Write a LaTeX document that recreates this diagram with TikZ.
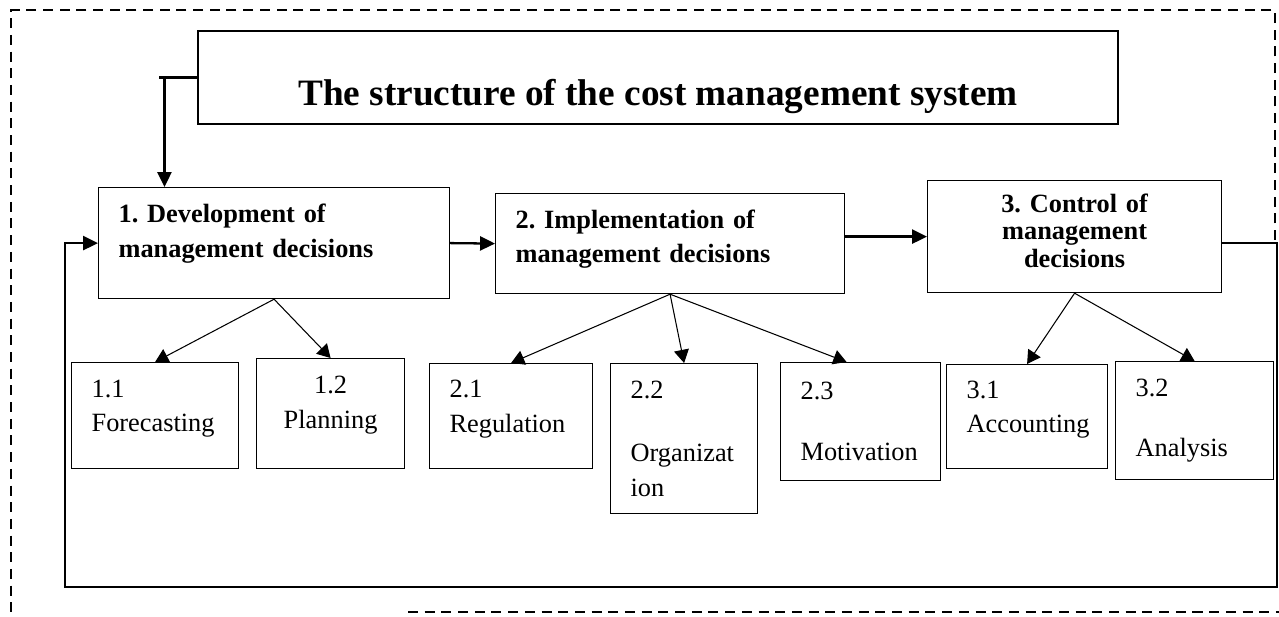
\documentclass[tikz,border=0pt]{standalone}
\usepackage{fontspec}
\setmainfont{Liberation Serif}
\usetikzlibrary{arrows.meta,calc}

\begin{document}
\frenchspacing
\begin{tikzpicture}[x=0.02cm, y=-0.02cm, font=\fontsize{15}{19.8}\selectfont,
  bx/.style={draw, line width=0.7pt, inner xsep=0.4cm, inner ysep=0pt, anchor=north west, align=left},
  bf/.style={font=\fontsize{15}{19.8}\selectfont\bfseries},
  ln/.style={line width=1.3pt},
  arr/.style={-{Triangle[length=8.5pt,width=8pt]}, line width=1.3pt},
  sub/.style={-{Triangle[length=7.5pt,width=8.5pt]}, line width=0.6pt},
  frm/.style={dash pattern=on 5.7pt off 3.8pt, line width=1.5pt}]
\useasboundingbox (0,0) rectangle (1279,617);
\node[draw, line width=0.7pt, minimum width=18.4cm, minimum height=1.86cm, text height=1.14cm, text depth=0pt,
  font=\fontsize{21.2}{25}\selectfont\bfseries] (title) at (658,77.5) {The structure of the cost management system};
% main stages
\node[bx, bf, text width=6.22cm, minimum height=2.22cm, text height=0pt] (b1) at (98,187) {1. Development of\\management decisions};
\node[bx, bf, text width=6.18cm, minimum height=2.0cm, text height=5.5pt] (b2) at (495,193) {2. Implementation of\\management decisions};
\node[bx, text width=5.08cm, minimum height=2.24cm, align=center, text height=4pt,
  font=\fontsize{15}{15.5}\selectfont\bfseries] (b3) at (927,180) {3. Control of\\management\\decisions};
% sub-functions
\node[bx, text width=2.54cm, minimum height=2.12cm, text height=2pt] (s11) at (71,362) {1.1\\Forecasting};
\node[bx, text width=2.16cm, minimum height=2.2cm, align=center, text height=0pt] (s12) at (256,358) {1.2\\Planning};
\node[bx, text width=2.46cm, minimum height=2.1cm, text height=2pt] (s21) at (429,363) {2.1\\Regulation};
\node[bx, text width=2.14cm, minimum height=3.0cm] (s22) at (610,363) {2.2\\[16pt]Organizat\\ion};
\node[bx, text width=2.4cm, minimum height=2.36cm] (s23) at (780,362) {2.3\\[15pt]Motivation};
\node[bx, text width=2.42cm, minimum height=2.08cm, text height=2pt] (s31) at (946,364) {3.1\\Accounting};
\node[bx, text width=2.36cm, minimum height=2.36cm] (s32) at (1115,361) {3.2\\[14pt]Analysis};
% connectors
\coordinate (tk) at ($(title.west)+(-33,0)$);
\draw[ln] (title.west) -- ++(-38,0);
\draw[arr] (tk) -- (tk |- b1.north);
\draw[arr] (b1.east) -- (b2.west);
\draw[arr] (b2.east |- b3.west) -- (b3.west);
\coordinate (fr) at (1277,587);
\coordinate (fl) at (65,587);
\draw[arr] (b3.east |- b1.west) -| (fr) -- (fl) |- (b1.west);
\foreach \a/\b in {b1/s11,b1/s12,b2/s21,b2/s22,b3/s31,b3/s32} \draw[sub] (\a.south) -- (\b.north);
\draw[sub] (b2.south) -- ([xshift=-8pt]s23.north);
% frame
\draw[frm] (1275,240) -- (1275,10) -- (11,10) -- (11,617);
\draw[frm] (408,612) -- (1279,612);
\end{tikzpicture}
\end{document}
